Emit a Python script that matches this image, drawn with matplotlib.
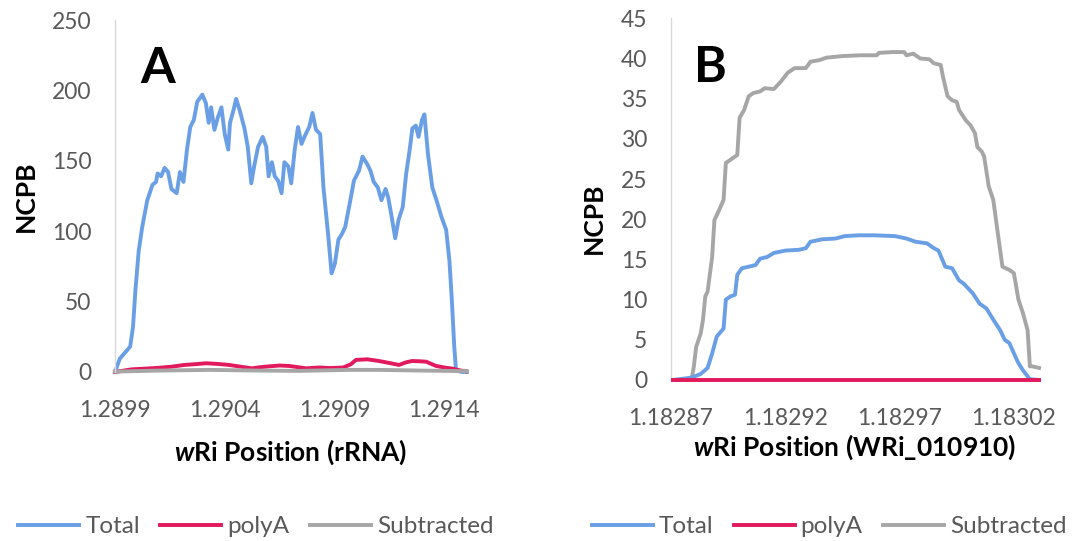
import matplotlib
matplotlib.use("Agg")
import matplotlib.pyplot as plt

plt.rcParams["font.family"] = ["Lato", "DejaVu Sans"]
plt.rcParams["mathtext.fontset"] = "custom"
plt.rcParams["mathtext.bfit"] = "Lato:italic:bold"
plt.rcParams["mathtext.rm"] = "Lato:bold"

BLUE = "#6a9fe6"
RED = "#e2195c"
GRAY = "#a6a6a6"
TXT = "#595959"

# ---- panel A: rRNA, positions in bp ----
a_total_pos = [1289900, 1289922, 1289969, 1289982, 1289993, 1290008, 1290024, 1290047,
               1290071, 1290087, 1290094, 1290110, 1290126, 1290142, 1290157, 1290181,
               1290196, 1290212, 1290228, 1290243, 1290259, 1290275, 1290298, 1290314,
               1290327, 1290338, 1290353, 1290369, 1290385, 1290400, 1290416, 1290424,
               1290440, 1290452, 1290468, 1290490, 1290505, 1290521, 1290534, 1290552,
               1290573, 1290589, 1290600, 1290615, 1290628, 1290643, 1290659, 1290672,
               1290690, 1290703, 1290719, 1290734, 1290750, 1290766, 1290785, 1290800,
               1290816, 1290835, 1290850, 1290871, 1290887, 1290902, 1290918, 1290934,
               1290949, 1290970, 1290989, 1291012, 1291028, 1291048, 1291064, 1291079,
               1291098, 1291114, 1291133, 1291145, 1291161, 1291177, 1291192, 1291211,
               1291227, 1291243, 1291255, 1291271, 1291283, 1291299, 1291310, 1291326,
               1291346, 1291365, 1291388, 1291409, 1291424, 1291435, 1291446, 1291454,
               1291482, 1291503]
a_total = [0, 9.5, 18, 32, 58, 86, 103, 122,
           133, 135, 141, 139, 145, 142, 130, 127,
           142, 135, 158, 174, 179, 192, 197, 191,
           177, 188, 172, 181, 188, 169, 158, 177,
           186, 194, 186, 173, 160, 134, 146, 160,
           167, 160, 139, 149, 139, 136, 127, 149,
           146, 134, 158, 174, 162, 168, 174, 184,
           172, 169, 131, 98, 70, 77, 94, 98,
           103, 120, 136, 143, 153, 148, 143, 135,
           131, 122, 130, 124, 110, 95, 108, 117,
           141, 158, 173, 175, 167, 179, 183, 155,
           131, 122, 110, 101, 79, 51, 18, 1,
           0, 0]

a_polya_pos = [1289900, 1289977, 1290040, 1290101, 1290160, 1290215, 1290270, 1290315,
               1290370, 1290420, 1290480, 1290524, 1290560, 1290602, 1290650, 1290693,
               1290735, 1290771, 1290830, 1290880, 1290940, 1290975, 1290998, 1291050,
               1291103, 1291150, 1291194, 1291225, 1291254, 1291290, 1291318, 1291363,
               1291400, 1291436, 1291477, 1291500]
a_polya = [0, 1.9, 2.4, 3, 3.8, 5, 5.6, 6.2,
           5.7, 5, 3.6, 2.6, 3.4, 4, 4.6, 4.3,
           3.4, 2.6, 3.2, 2.8, 3.2, 5.5, 8.6, 9,
           7.8, 6.4, 5, 6.8, 7.8, 7.6, 7.3, 4.3,
           3.2, 2.4, 1, 0.5]

a_sub_pos = [1289900, 1290100, 1290330, 1290560, 1290740, 1290970, 1291100, 1291300, 1291503]
a_sub = [0.3, 1, 1.5, 1, 0.8, 1.5, 1.5, 1, 0.6]

# ---- panel B: WRi_010910, positions in bp ----
b_sub_pos = [1182871, 1182879, 1182880, 1182881, 1182883, 1182884, 1182885, 1182886,
             1182888, 1182889, 1182891, 1182893, 1182894, 1182896, 1182899, 1182900,
             1182902, 1182904, 1182906, 1182909, 1182911, 1182915, 1182918, 1182921,
             1182924, 1182929, 1182931, 1182935, 1182938, 1182945, 1182953, 1182960,
             1182961, 1182967, 1182972, 1182973, 1182976, 1182979, 1182983, 1182985,
             1182988, 1182989, 1182991, 1182993, 1182995, 1182996, 1182999, 1183001,
             1183003, 1183004, 1183006, 1183007, 1183009, 1183011, 1183013, 1183015,
             1183018, 1183020, 1183022, 1183024, 1183026, 1183027, 1183028, 1183031]
b_sub = [0, 0.1, 1.7, 4.1, 5.8, 7.5, 10.4, 11,
         15.3, 19.9, 21.1, 22.4, 27, 27.4, 28, 32.6,
         33.6, 35.3, 35.7, 35.9, 36.3, 36.2, 37.1, 38.2,
         38.8, 38.8, 39.6, 39.8, 40.1, 40.3, 40.4, 40.4,
         40.7, 40.8, 40.8, 40.4, 40.6, 40.0, 39.9, 39.4,
         39.2, 37.7, 35.3, 34.8, 34.6, 33.6, 32.3, 31.7,
         30.7, 29.0, 28.4, 27.8, 24.1, 22.4, 18.2, 14.1,
         13.7, 13.3, 10.0, 8.3, 6.2, 1.7, 1.7, 1.5]

b_total_pos = [1182871, 1182879, 1182883, 1182886, 1182888, 1182890, 1182893, 1182894,
               1182896, 1182898, 1182899, 1182901, 1182904, 1182907, 1182909, 1182912,
               1182915, 1182920, 1182926, 1182929, 1182931, 1182936, 1182942, 1182946,
               1182952, 1182959, 1182968, 1182973, 1182977, 1182982, 1182985, 1182987,
               1182990, 1182993, 1182996, 1182998, 1183002, 1183005, 1183008, 1183011,
               1183014, 1183016, 1183018, 1183021, 1183022, 1183024, 1183027, 1183031]
b_total = [0, 0.3, 0.75, 1.5, 3.3, 5.4, 6.4, 10,
           10.4, 10.6, 13.1, 13.9, 14.1, 14.3, 15.1, 15.3,
           15.8, 16.1, 16.2, 16.4, 17.2, 17.5, 17.6, 17.9,
           18.0, 18.0, 17.9, 17.6, 17.2, 17.0, 16.4, 16.1,
           14.1, 13.9, 12.4, 12.0, 10.8, 9.5, 8.9, 7.5,
           6.2, 5.0, 4.6, 2.7, 2.1, 1.2, 0.1, 0]

b_polya_pos = [1182871, 1183031]
b_polya = [0, 0]

a_ticks = [1.2899, 1.2904, 1.2909, 1.2914]
b_ticks = [1.18287, 1.18292, 1.18297, 1.18302]


def mb(pos):
    return [p / 1e6 for p in pos]


fig = plt.figure(figsize=(10.84, 5.41), dpi=100)
ax_a = fig.add_axes([0.1061, 0.3124, 0.3247, 0.6506])
ax_b = fig.add_axes([0.6190, 0.2976, 0.3395, 0.6686])

lw = 2.8
kw = dict(lw=lw, clip_on=False, solid_joinstyle="round")
ax_a.plot(mb(a_total_pos), a_total, color=BLUE, label="Total", **kw)
ax_a.plot(mb(a_polya_pos), a_polya, color=RED, label="polyA", **kw)
ax_a.plot(mb(a_sub_pos), a_sub, color=GRAY, label="Subtracted", **kw)

ax_b.plot(mb(b_total_pos), b_total, color=BLUE, label="Total", zorder=3, **kw)
ax_b.plot(mb(b_polya_pos), b_polya, color=RED, label="polyA", zorder=4, **kw)
ax_b.plot(mb(b_sub_pos), b_sub, color=GRAY, label="Subtracted", zorder=2, **kw)

setup = [
    (ax_a, (1.2899, 1.291504), 250, 50, a_ticks, "%.4f", "rRNA", -0.22, 0.5, 12),
    (ax_b, (1.18287, 1.183031), 45, 5, b_ticks, "%.5f", "WRi_010910", -0.178, 0.448, 3),
]
for ax, xl, ymax, ystep, xt, fmt, name, lx, ly, lpad in setup:
    ax.set_xlim(*xl)
    ax.set_ylim(0, ymax)
    ax.set_yticks(range(0, ymax + 1, ystep))
    ax.set_xticks(xt)
    ax.set_xticklabels([fmt % t for t in xt])
    for s in ("top", "right", "bottom"):
        ax.spines[s].set_visible(False)
    ax.spines["left"].set_color("#d9d9d9")
    ax.spines["left"].set_linewidth(1)
    ax.tick_params(axis="both", length=0, labelsize=16.5, labelcolor=TXT)
    ax.tick_params(axis="y", pad=17)
    ax.tick_params(axis="x", pad=20)
    ax.set_ylabel("NCPB", fontsize=19, fontweight="bold")
    ax.yaxis.set_label_coords(lx, ly)
    ax.set_xlabel(r"$\mathbfit{w}$" + "Ri Position (%s)" % name,
                  fontsize=19, fontweight="bold", labelpad=lpad)

fig.text(0.1458, 0.874, "A", fontsize=36, fontweight="bold", ha="center", va="center")
fig.text(0.655, 0.876, "B", fontsize=36, fontweight="bold", ha="center", va="center")

for ax, cx in ((ax_a, 0.236), (ax_b, 0.765)):
    h, l = ax.get_legend_handles_labels()
    fig.legend(h, l, loc="center", bbox_to_anchor=(cx, 0.026), ncol=3, frameon=False,
               fontsize=17.5, labelcolor=TXT, handlelength=2.5, handletextpad=0.25,
               columnspacing=0.85)

fig.savefig("out.png", dpi=100)
